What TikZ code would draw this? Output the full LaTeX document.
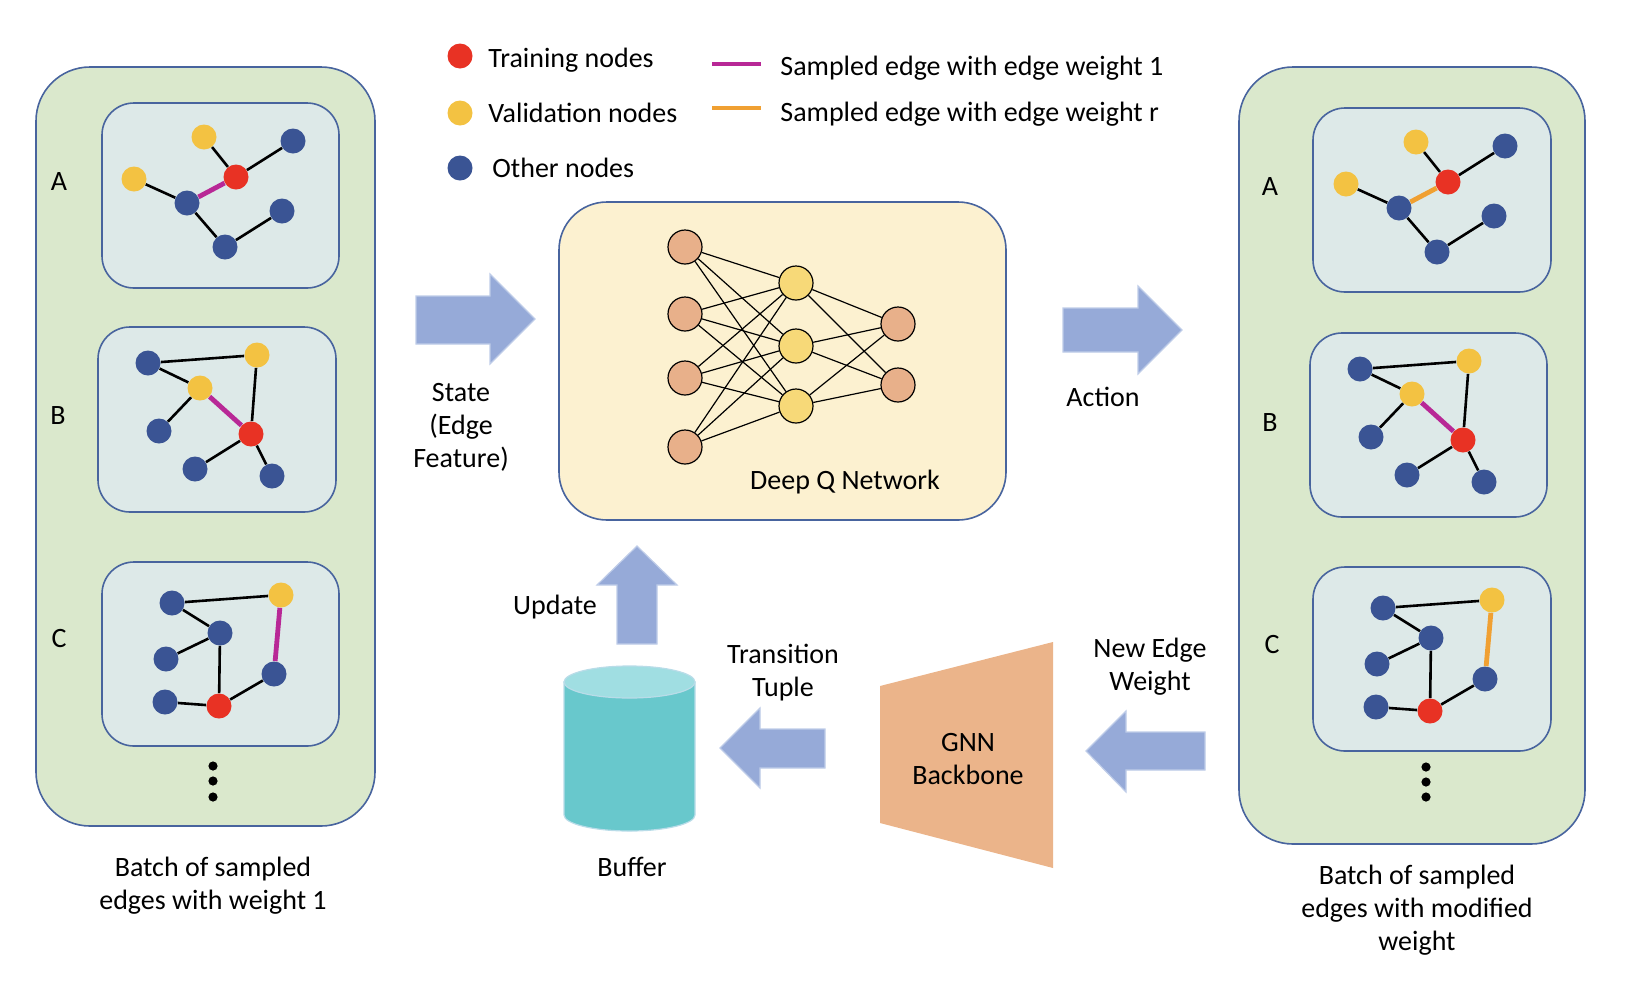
\documentclass[tikz,border=0pt]{standalone}
\usepackage{fontspec}
\setmainfont{Carlito}
\definecolor{panelG}{RGB}{218,232,204}
\definecolor{panelB}{RGB}{72,100,158}
\definecolor{innerF}{RGB}{221,233,232}
\definecolor{nBlue}{RGB}{58,84,148}
\definecolor{nRed}{RGB}{232,50,36}
\definecolor{nYel}{RGB}{243,194,66}
\definecolor{eMag}{RGB}{184,40,150}
\definecolor{eOra}{RGB}{240,160,50}
\definecolor{dqnF}{RGB}{252,241,208}
\definecolor{nnSal}{RGB}{232,176,138}
\definecolor{nnYel}{RGB}{247,217,120}
\definecolor{arrF}{RGB}{150,170,216}
\definecolor{arrD}{RGB}{190,204,232}
\definecolor{cylTop}{RGB}{160,222,226}
\definecolor{cylBody}{RGB}{104,200,204}
\definecolor{cylLine}{RGB}{185,220,232}
\definecolor{gnnF}{RGB}{235,180,138}
\tikzset{
  gn/.style={circle, minimum size=12.5pt, inner sep=0pt, draw=none},
  bn/.style={gn, fill=nBlue},
  rn/.style={gn, fill=nRed},
  yn/.style={gn, fill=nYel},
  ed/.style={line width=1.3pt, black},
  smag/.style={line width=2.4pt, eMag},
  sora/.style={line width=2.4pt, eOra},
  outerbox/.style={draw=panelB, line width=0.8pt, fill=panelG, rounded corners=27pt},
  innerbox/.style={draw=panelB, line width=0.8pt, fill=innerF, rounded corners=16pt},
  lbl/.style={font=\fontsize{14}{16.5}\selectfont, align=center, inner sep=0pt},
  blockarrow/.style={fill=arrF, draw=arrD, line width=0.6pt, line join=miter},
  nnS/.style={circle, minimum size=17pt, inner sep=0pt, draw=black, line width=0.6pt, fill=nnSal},
  nnY/.style={circle, minimum size=17pt, inner sep=0pt, draw=black, line width=0.6pt, fill=nnYel},
  nnE/.style={line width=0.6pt, black},
  vdot/.style={circle, fill=black, minimum size=4.6pt, inner sep=0pt},
}
\newcommand{\grA}[1]{%
  \node[yn] (a1) at (204,137) {};
  \node[bn] (a2) at (293,141) {};
  \node[yn] (a3) at (134,179) {};
  \node[rn] (a4) at (236,177) {};
  \node[bn] (a5) at (187,203) {};
  \node[bn] (a6) at (282,211) {};
  \node[bn] (a7) at (225,247) {};
  \draw[ed] (a1)--(a4) (a4)--(a2) (a3)--(a5) (a5)--(a7) (a7)--(a6);
  \draw[#1] (a5)--(a4);
}
\newcommand{\grB}[1]{%
  \node[bn] (b1) at (148,363) {};
  \node[yn] (b2) at (257,355) {};
  \node[yn] (b3) at (200,388) {};
  \node[bn] (b4) at (159,431) {};
  \node[rn] (b5) at (251,434) {};
  \node[bn] (b6) at (195,469) {};
  \node[bn] (b7) at (272,476) {};
  \draw[ed] (b1)--(b2) (b1)--(b3) (b3)--(b4) (b2)--(b5) (b5)--(b6) (b5)--(b7);
  \draw[#1] (b3)--(b5);
}
\newcommand{\grC}[1]{%
  \node[bn] (c1) at (172,603) {};
  \node[yn] (c2) at (281,595) {};
  \node[bn] (c3) at (220,633) {};
  \node[bn] (c4) at (166,659) {};
  \node[bn] (c5) at (274,674) {};
  \node[bn] (c6) at (165,702) {};
  \node[rn] (c7) at (219,706) {};
  \draw[ed] (c1)--(c2) (c1)--(c3) (c3)--(c4) (c3)--(c7) (c6)--(c7) (c7)--(c5);
  \draw[#1] (c2)--(c5);
}
\begin{document}
\begin{tikzpicture}[x=0.5pt, y=-0.5pt]
\useasboundingbox (0,0) rectangle (1632,986);

% ---------- left panel ----------
\path[outerbox] (36,67) rectangle (375,826);
\path[innerbox] (102,103) rectangle (339,288);
\path[innerbox] (98,327) rectangle (336,512);
\path[innerbox] (102,562) rectangle (339,746);
\begin{scope}[name prefix=L-]
  \grA{smag}
\end{scope}
\begin{scope}[name prefix=L-]
  \grB{smag}
\end{scope}
\begin{scope}[name prefix=L-]
  \grC{smag}
\end{scope}
\node[lbl] (labLA) at (59,182) {A};
\node[lbl] (labLB) at (58,416) {B};
\node[lbl] (labLC) at (59,638) {C};
\node[vdot] (ld1) at (213,766) {};
\node[vdot] (ld2) at (213,781) {};
\node[vdot] (ld3) at (213,797) {};
\node[lbl] (capL) at (213,886) {Batch of sampled\\edges with weight 1};

% ---------- right panel ----------
\path[outerbox] (1239,67) rectangle (1585,844);
\path[innerbox] (1313,108) rectangle (1551,292);
\path[innerbox] (1310,333) rectangle (1547,517);
\path[innerbox] (1313,567) rectangle (1551,751);
\begin{scope}[shift={(1212,5)}, name prefix=R-]
  \grA{sora}
\end{scope}
\begin{scope}[shift={(1212,6)}, name prefix=R-]
  \grB{smag}
\end{scope}
\begin{scope}[shift={(1211,5)}, name prefix=R-]
  \grC{sora}
\end{scope}
\node[lbl] (labRA) at (1270,187) {A};
\node[lbl] (labRB) at (1270,423) {B};
\node[lbl] (labRC) at (1272,644) {C};
\node[vdot] (rd1) at (1426,767) {};
\node[vdot] (rd2) at (1426,782) {};
\node[vdot] (rd3) at (1426,797) {};
\node[lbl] (capR) at (1417,910) {Batch of sampled\\edges with modified\\weight};

% ---------- legend ----------
\node[rn] (lgR) at (460,56) {};
\node[yn] (lgY) at (460,113) {};
\node[bn] (lgB) at (460,168) {};
\node[lbl, anchor=west] (lgRt) at (488,60) {Training nodes};
\node[lbl, anchor=west] (lgYt) at (488,113) {Validation nodes};
\node[lbl, anchor=west] (lgBt) at (492,168) {Other nodes};
\coordinate (lm1) at (712,64); \coordinate (lm2) at (761,64);
\coordinate (lo1) at (712,108); \coordinate (lo2) at (761,108);
\draw[eMag, line width=1.7pt] (lm1) -- (lm2);
\draw[eOra, line width=1.7pt] (lo1) -- (lo2);
\node[lbl, anchor=west] (lgMt) at (780,68) {Sampled edge with edge weight 1};
\node[lbl, anchor=west] (lgOt) at (780,114) {Sampled edge with edge weight r};

% ---------- DQN ----------
\path[draw=panelB, line width=0.8pt, fill=dqnF, rounded corners=24pt] (559,202) rectangle (1006,520);
\node[nnS] (i1) at (685,247) {};
\node[nnS] (i2) at (685,314) {};
\node[nnS] (i3) at (685,378) {};
\node[nnS] (i4) at (685,447) {};
\node[nnY] (h1) at (796,283) {};
\node[nnY] (h2) at (796,346) {};
\node[nnY] (h3) at (796,406) {};
\node[nnS] (o1) at (898,324) {};
\node[nnS] (o2) at (898,385) {};
\foreach \i in {1,...,4}{\foreach \h in {1,2,3}{\draw[nnE] (i\i) -- (h\h);}}
\foreach \h in {1,2,3}{\foreach \o in {1,2}{\draw[nnE] (h\h) -- (o\o);}}
\node[lbl] (dqnT) at (845,482) {Deep Q Network};

% ---------- block arrows ----------
\path[blockarrow] (416,296) -- (490,296) -- (490,274) -- (535,319) -- (490,364) -- (490,344) -- (416,344) -- cycle;
\node[lbl] (stateT) at (461,427) {State\\(Edge\\Feature)};
\path[blockarrow] (1063,308) -- (1138,308) -- (1138,286) -- (1182,330) -- (1138,374) -- (1138,352) -- (1063,352) -- cycle;
\node[lbl] (actT) at (1103,397) {Action};
\path[blockarrow] (617,644) -- (617,585) -- (597,585) -- (637,546) -- (677,585) -- (657,585) -- (657,644) -- cycle;
\node[lbl] (updT) at (555,607) {Update};
\path[blockarrow] (825,729) -- (760,729) -- (760,708) -- (720,748) -- (760,788) -- (760,768) -- (825,768) -- cycle;
\node[lbl] (transT) at (783,673) {Transition\\Tuple};
\path[blockarrow] (1205,732) -- (1126,732) -- (1126,711) -- (1086,751) -- (1126,792) -- (1126,770) -- (1205,770) -- cycle;
\node[lbl] (newT) at (1150,667) {New Edge\\Weight};

% ---------- buffer ----------
\path[fill=cylBody, draw=cylLine, line width=0.6pt] (564,682) -- (564,815) arc[start angle=180, end angle=360, x radius=32.75pt, y radius=8pt] -- (695,682) -- cycle;
\path[fill=cylTop, draw=cylLine, line width=0.6pt] (629.5,682) ellipse [x radius=32.75pt, y radius=8pt];
\node[lbl] (bufT) at (632,867) {Buffer};

% ---------- GNN ----------
\path[fill=gnnF] (880,686) -- (1053,642) -- (1053,868) -- (880,823) -- cycle;
\node[lbl] (gnnT) at (968,759) {GNN\\Backbone};
\end{tikzpicture}
\end{document}
